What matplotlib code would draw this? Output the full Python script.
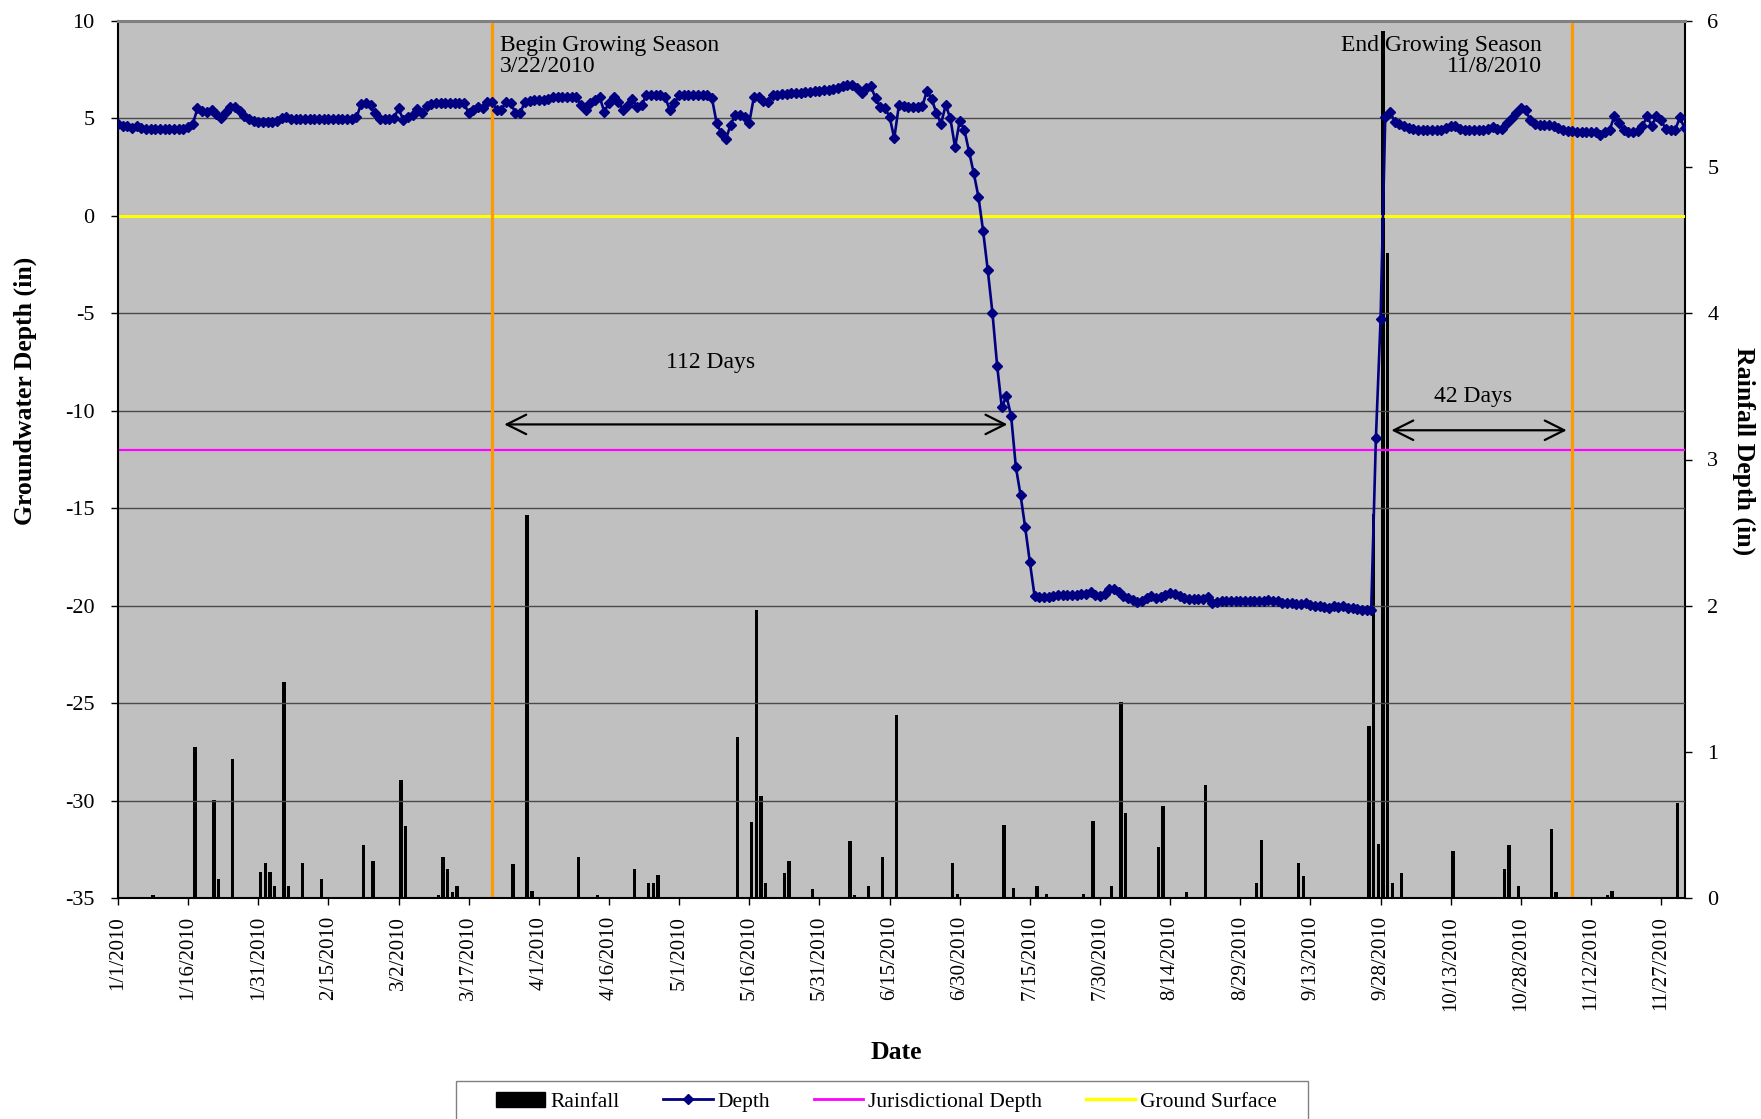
import matplotlib
matplotlib.use('Agg')
import matplotlib.pyplot as plt
from matplotlib.patches import Patch, Rectangle
from matplotlib.lines import Line2D

plt.rcParams['font.family'] = ['Liberation Serif', 'DejaVu Serif']
plt.rcParams['axes.unicode_minus'] = False

# ---------------- data ----------------
# daily groundwater depth (in), day 0 = 1/1/2010
depth_in = [
    4.72, 4.62, 4.60, 4.50, 4.60, 4.50, 4.47, 4.45, 4.45, 4.45, 4.45, 4.45, 4.45, 4.45, 4.45, 4.55, 4.72,
    5.52, 5.40, 5.35, 5.42, 5.25, 5.02, 5.35, 5.58, 5.60, 5.38, 5.12, 4.97, 4.86, 4.82, 4.82, 4.82, 4.82, 4.85, 5.00, 5.05,
    4.96, 4.95, 4.95, 4.96, 4.96, 4.96, 4.96, 4.96, 4.96, 4.96, 4.96, 4.96, 4.97, 4.98,
    5.05, 5.75, 5.78, 5.70, 5.30, 4.98, 4.96, 4.96, 5.00, 5.52, 4.92, 5.05, 5.20, 5.50, 5.28, 5.62, 5.75, 5.80, 5.80, 5.80, 5.80, 5.80, 5.80, 5.78,
    5.26, 5.45, 5.60, 5.52, 5.86, 5.86, 5.43, 5.45, 5.86, 5.80, 5.26, 5.26, 5.86,
    5.92, 5.93, 5.95, 5.97, 6.00, 6.08, 6.10, 6.10, 6.12, 6.12, 6.10, 5.70, 5.43, 5.78, 5.95, 6.08, 5.35, 5.80, 6.12, 5.86,
    5.43, 5.70, 5.98, 5.60, 5.70, 6.20, 6.22, 6.22, 6.22, 6.10, 5.43, 5.78, 6.20, 6.22, 6.22, 6.22, 6.20, 6.20, 6.22, 6.05,
    4.79, 4.24, 3.93, 4.67, 5.18, 5.20, 5.09, 4.79, 6.12, 6.08, 5.92, 5.86, 6.20,
    6.22, 6.24, 6.26, 6.28, 6.30, 6.33, 6.36, 6.38, 6.40, 6.42, 6.45, 6.48, 6.52, 6.55, 6.68, 6.72, 6.72,
    6.55, 6.29, 6.55, 6.67, 6.03, 5.60, 5.52, 5.09, 3.98, 5.69, 5.62, 5.60, 5.60, 5.60, 5.62,
    6.43, 5.98, 5.30, 4.72, 5.69, 5.00, 3.52, 4.89, 4.41, 3.30, 2.19, 0.99, -0.77,
    -2.79, -4.98, -7.68, -9.82, -9.24, -10.28, -12.87, -14.31, -15.98, -17.77, -19.49,
    -19.55, -19.55, -19.55, -19.50, -19.45, -19.45, -19.45, -19.45, -19.45, -19.42, -19.40, -19.32, -19.45, -19.50,
    -19.40, -19.15, -19.15, -19.30, -19.50, -19.60, -19.70, -19.83, -19.75, -19.60, -19.50, -19.60, -19.55, -19.45,
    -19.35, -19.42, -19.50, -19.60, -19.65, -19.65, -19.65, -19.65, -19.56, -19.86, -19.80, -19.78, -19.78, -19.78,
    -19.78, -19.78, -19.78, -19.78, -19.78, -19.78, -19.75, -19.72, -19.75, -19.75, -19.85, -19.85, -19.88, -19.90,
    -19.94, -19.88, -19.95, -20.00, -20.00, -20.05, -20.10, -20.00, -20.05, -20.00, -20.10, -20.10, -20.15, -20.20, -20.20,
    -20.20, -11.40, -5.30, 5.06, 5.35, 4.84, 4.72, 4.60, 4.50, 4.45, 4.42, 4.41, 4.41, 4.41, 4.41, 4.43,
    4.50, 4.62, 4.62, 4.45, 4.42, 4.41, 4.41, 4.41, 4.41, 4.45, 4.55, 4.45, 4.45, 4.75,
    5.00, 5.26, 5.52, 5.44, 4.92, 4.72, 4.67, 4.67, 4.65, 4.63, 4.50, 4.41, 4.36, 4.34, 4.33, 4.33, 4.32, 4.32, 4.30, 4.15, 4.30,
    4.42, 5.12, 4.75, 4.42, 4.33, 4.32, 4.35, 4.60, 5.12, 4.60, 5.15, 4.90, 4.45, 4.40, 4.42, 5.05, 4.50,
]
depth_day = list(range(len(depth_in)))

# daily rainfall (in): day index since 1/1/2010 and amount
rain_day = [0, 7, 16, 19, 20, 21, 24, 30, 31, 32, 33, 35, 36, 39, 40, 43, 52, 54, 55, 60, 61, 62,
            68, 69, 70, 71, 72, 73, 80, 81, 84, 87, 88, 98, 102, 103, 110, 111, 113, 114, 115,
            132, 135, 136, 137, 138, 142, 143, 146, 147, 148, 156, 157, 159, 160, 163, 166, 167,
            178, 179, 189, 191, 196, 198, 199, 206, 208, 209, 211, 212, 214, 215, 216, 221, 222, 223,
            228, 232, 243, 244, 252, 253, 267, 268, 269, 270, 271, 272, 274, 285, 291, 296, 297, 299,
            306, 307, 318, 319, 329, 332, 333]
rain_in = [0.01, 0.02, 1.03, 0.01, 0.67, 0.13, 0.95, 0.18, 0.24, 0.18, 0.08, 1.48, 0.08, 0.24, 0.01, 0.13,
           0.36, 0.25, 0.01, 0.81, 0.49, 0.01,
           0.02, 0.28, 0.20, 0.04, 0.08, 0.01, 0.01, 0.01, 0.23, 2.62, 0.05, 0.28, 0.02, 0.01, 0.20, 0.01,
           0.10, 0.10, 0.16,
           1.10, 0.52, 1.97, 0.70, 0.10, 0.17, 0.25, 0.01, 0.01, 0.06, 0.39, 0.02, 0.01, 0.08, 0.28, 1.25, 0.01,
           0.24, 0.03, 0.50, 0.07, 0.08, 0.03, 0.01, 0.03, 0.53, 0.01, 0.01, 0.08, 1.34, 0.58, 0.01, 0.01, 0.35, 0.63,
           0.04, 0.77, 0.10, 0.40, 0.24, 0.15, 1.18, 2.63, 0.37, 5.93, 4.41, 0.10, 0.17, 0.32, 0.01, 0.20, 0.36, 0.08,
           0.47, 0.04, 0.02, 0.05, 0.01, 0.01, 0.65]

jurisdictional_depth = -12
ground_surface = 0
season_days = [80, 311]          # 3/22/2010 and 11/8/2010
season_labels = ["Begin Growing Season\n3/22/2010", "End Growing Season\n11/8/2010"]
span_labels = ["112 Days", "42 Days"]

tick_days = list(range(0, 331, 15))
tick_labels = ["1/1/2010", "1/16/2010", "1/31/2010", "2/15/2010", "3/2/2010", "3/17/2010", "4/1/2010",
               "4/16/2010", "5/1/2010", "5/16/2010", "5/31/2010", "6/15/2010", "6/30/2010", "7/15/2010",
               "7/30/2010", "8/14/2010", "8/29/2010", "9/13/2010", "9/28/2010", "10/13/2010", "10/28/2010",
               "11/12/2010", "11/27/2010"]

# ---------------- figure ----------------
fig = plt.figure(figsize=(17.61, 11.19), dpi=100)
rect = [118 / 1761, 1 - 898 / 1119, (1685 - 118) / 1761, (898 - 21) / 1119]
ax = fig.add_axes(rect)
ax2 = ax.twinx()
ax.set_zorder(3)
ax2.set_zorder(2)
ax.patch.set_visible(False)
ax2.patch.set_visible(True)
ax2.patch.set_facecolor('#C0C0C0')

# rainfall bars
ax2.bar([d + 0.5 for d in rain_day], rain_in, width=0.72, color='black', zorder=2)
ax2.set_ylim(0, 6)
ax2.set_yticks(range(0, 7))

# reference lines
ax.axhline(ground_surface, color='#FFFF00', lw=2.2, zorder=2)
ax.axhline(jurisdictional_depth, color='#FF00FF', lw=1.6, zorder=2)
for d in season_days:
    ax.axvline(d, color='#FF9900', lw=2.3, zorder=2)

# depth line
ax.plot(depth_day, depth_in, color='#000080', lw=1.9, marker='D', ms=4.8, zorder=4)

ax.set_xlim(0, 335.1)
ax.set_ylim(-35, 10)
ax.set_yticks(range(-35, 11, 5))
ax.set_xticks(tick_days)
ax.set_xticklabels(tick_labels)
ax.yaxis.grid(True, color='#4a4a4a', lw=1.0)
ax.set_axisbelow(True)

ax.tick_params(axis='x', direction='out', length=5, width=1, labelsize=15, pad=8, labelrotation=90)
ax.tick_params(axis='y', direction='out', length=5, width=1, labelsize=16, pad=12)
ax2.tick_params(axis='y', direction='out', length=5, width=1, labelsize=16, pad=11)

for a in (ax, ax2):
    for s in a.spines.values():
        s.set_visible(False)
ax.spines['left'].set_visible(True)
ax.spines['left'].set_color('black')
ax.spines['left'].set_linewidth(1.5)
ax.spines['bottom'].set_visible(True)
ax.spines['bottom'].set_color('black')
ax.spines['bottom'].set_linewidth(1.5)
ax.spines['top'].set_visible(True)
ax.spines['top'].set_color('#808080')
ax.spines['top'].set_linewidth(2.2)
ax2.spines['right'].set_visible(True)
ax2.spines['right'].set_color('black')
ax2.spines['right'].set_linewidth(1.5)

# annotations
ax.text(81.7, 9.3, season_labels[0], ha='left', va='top', fontsize=17, linespacing=1.05, zorder=5)
ax.text(304.5, 9.3, season_labels[1], ha='right', va='top', fontsize=17, linespacing=1.05,
        multialignment='right', zorder=5)
ax.text(126.8, -7.5, span_labels[0], ha='center', va='center', fontsize=17, zorder=5)
ax.text(289.8, -9.25, span_labels[1], ha='center', va='center', fontsize=17, zorder=5)
arrow = dict(arrowstyle='<->,head_length=0.7,head_width=0.35', lw=1.6, color='black',
             mutation_scale=20, shrinkA=0, shrinkB=0)
ax.annotate('', xy=(190.2, -10.7), xytext=(82.6, -10.7), arrowprops=arrow, zorder=5)
ax.annotate('', xy=(309.8, -11.0), xytext=(272.3, -11.0), arrowprops=arrow, zorder=5)

# axis labels
fig.text(0.0142, 0.651, 'Groundwater Depth (in)', rotation=90, ha='center', va='center',
         fontsize=18.5, fontweight='bold')
fig.text(0.990, 0.597, 'Rainfall Depth (in)', rotation=270, ha='center', va='center',
         fontsize=18.5, fontweight='bold')
fig.text(0.509, 0.059, 'Date', ha='center', va='center', fontsize=18.5, fontweight='bold')

# legend (frame drawn separately: wide horizontal padding, cut off at the bottom)
fig.patches.append(Rectangle((456 / 1761, -0.05), (1308 - 456) / 1761, 0.034 + 0.05,
                             transform=fig.transFigure, facecolor='white',
                             edgecolor='#808080', lw=1.0, zorder=1))
handles = [Patch(facecolor='black', edgecolor='black'),
           Line2D([], [], color='#000080', lw=2, marker='D', ms=5),
           Line2D([], [], color='#FF00FF', lw=2),
           Line2D([], [], color='#FFFF00', lw=2.5)]
labels = ['Rainfall', 'Depth', 'Jurisdictional Depth', 'Ground Surface']
leg = fig.legend(handles, labels, loc='center', bbox_to_anchor=(0.5034, 0.0152), ncol=4,
                 fontsize=15.5, frameon=False, handlelength=2.3, handletextpad=0.25,
                 columnspacing=2.0, borderpad=0.2)
leg.set_zorder(2)

fig.savefig('out.png', dpi=100)
